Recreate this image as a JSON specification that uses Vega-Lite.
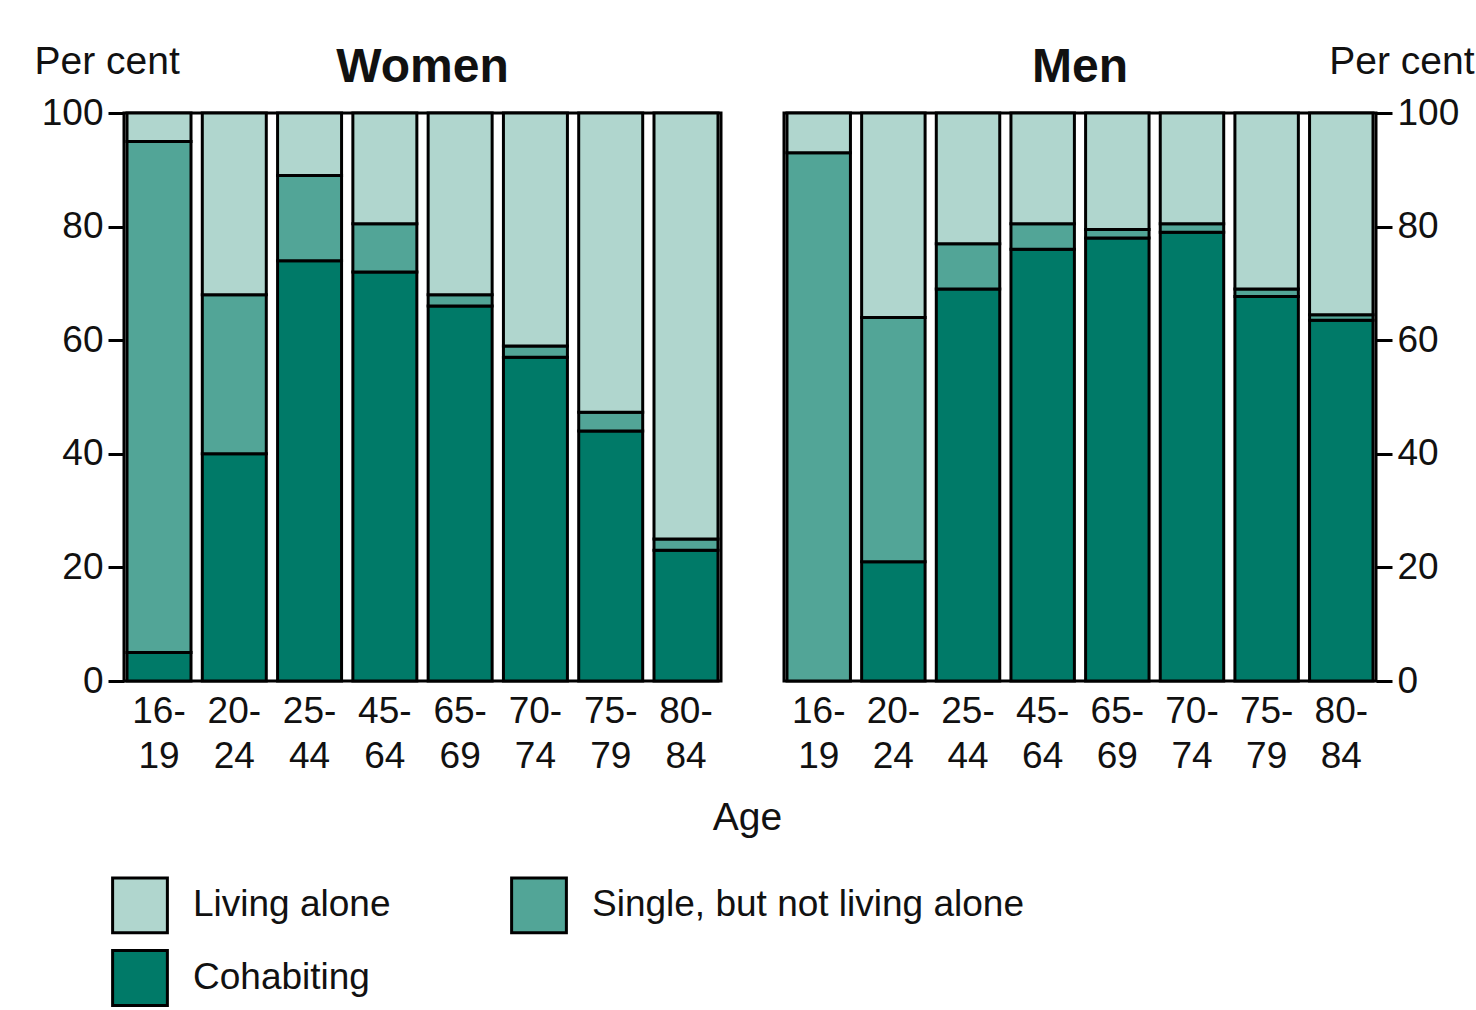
{
  "$schema": "https://vega.github.io/schema/vega-lite/v6.json",
  "background": "white",
  "padding": {"left": 32, "top": 40, "right": 5, "bottom": 5},
  "config": {
    "font": "Liberation Sans",
    "view": {"stroke": "black", "strokeWidth": 3},
    "axis": {"labelFontSize": 37, "labelColor": "#111", "titleFontSize": 39, "titleFontWeight": "normal", "titleColor": "#111", "grid": false, "domain": false, "tickColor": "black", "tickWidth": 3},
    "title": {"fontSize": 48, "fontWeight": "bold", "color": "#111"}
  },
  "data": {"values": [
    {"sex": "Women", "age": "16-19", "category": "Cohabiting", "value": 5},
    {"sex": "Women", "age": "16-19", "category": "Single, but not living alone", "value": 90},
    {"sex": "Women", "age": "16-19", "category": "Living alone", "value": 5},
    {"sex": "Women", "age": "20-24", "category": "Cohabiting", "value": 40},
    {"sex": "Women", "age": "20-24", "category": "Single, but not living alone", "value": 28},
    {"sex": "Women", "age": "20-24", "category": "Living alone", "value": 32},
    {"sex": "Women", "age": "25-44", "category": "Cohabiting", "value": 74},
    {"sex": "Women", "age": "25-44", "category": "Single, but not living alone", "value": 15},
    {"sex": "Women", "age": "25-44", "category": "Living alone", "value": 11},
    {"sex": "Women", "age": "45-64", "category": "Cohabiting", "value": 72},
    {"sex": "Women", "age": "45-64", "category": "Single, but not living alone", "value": 8.5},
    {"sex": "Women", "age": "45-64", "category": "Living alone", "value": 19.5},
    {"sex": "Women", "age": "65-69", "category": "Cohabiting", "value": 66},
    {"sex": "Women", "age": "65-69", "category": "Single, but not living alone", "value": 2},
    {"sex": "Women", "age": "65-69", "category": "Living alone", "value": 32},
    {"sex": "Women", "age": "70-74", "category": "Cohabiting", "value": 57},
    {"sex": "Women", "age": "70-74", "category": "Single, but not living alone", "value": 2},
    {"sex": "Women", "age": "70-74", "category": "Living alone", "value": 41},
    {"sex": "Women", "age": "75-79", "category": "Cohabiting", "value": 44},
    {"sex": "Women", "age": "75-79", "category": "Single, but not living alone", "value": 3.3},
    {"sex": "Women", "age": "75-79", "category": "Living alone", "value": 52.7},
    {"sex": "Women", "age": "80-84", "category": "Cohabiting", "value": 23},
    {"sex": "Women", "age": "80-84", "category": "Single, but not living alone", "value": 2},
    {"sex": "Women", "age": "80-84", "category": "Living alone", "value": 75},
    {"sex": "Men", "age": "16-19", "category": "Single, but not living alone", "value": 93},
    {"sex": "Men", "age": "16-19", "category": "Living alone", "value": 7},
    {"sex": "Men", "age": "20-24", "category": "Cohabiting", "value": 21},
    {"sex": "Men", "age": "20-24", "category": "Single, but not living alone", "value": 43},
    {"sex": "Men", "age": "20-24", "category": "Living alone", "value": 36},
    {"sex": "Men", "age": "25-44", "category": "Cohabiting", "value": 69},
    {"sex": "Men", "age": "25-44", "category": "Single, but not living alone", "value": 8},
    {"sex": "Men", "age": "25-44", "category": "Living alone", "value": 23},
    {"sex": "Men", "age": "45-64", "category": "Cohabiting", "value": 76},
    {"sex": "Men", "age": "45-64", "category": "Single, but not living alone", "value": 4.5},
    {"sex": "Men", "age": "45-64", "category": "Living alone", "value": 19.5},
    {"sex": "Men", "age": "65-69", "category": "Cohabiting", "value": 78},
    {"sex": "Men", "age": "65-69", "category": "Single, but not living alone", "value": 1.5},
    {"sex": "Men", "age": "65-69", "category": "Living alone", "value": 20.5},
    {"sex": "Men", "age": "70-74", "category": "Cohabiting", "value": 79},
    {"sex": "Men", "age": "70-74", "category": "Single, but not living alone", "value": 1.5},
    {"sex": "Men", "age": "70-74", "category": "Living alone", "value": 19.5},
    {"sex": "Men", "age": "75-79", "category": "Cohabiting", "value": 67.7},
    {"sex": "Men", "age": "75-79", "category": "Single, but not living alone", "value": 1.3},
    {"sex": "Men", "age": "75-79", "category": "Living alone", "value": 31},
    {"sex": "Men", "age": "80-84", "category": "Cohabiting", "value": 63.5},
    {"sex": "Men", "age": "80-84", "category": "Single, but not living alone", "value": 1},
    {"sex": "Men", "age": "80-84", "category": "Living alone", "value": 35.5}
  ]},
  "spacing": -5,
  "hconcat": [
    {
      "title": {"text": "Women", "offset": -50},
      "width": 597,
      "height": 568,
      "transform": [
        {"filter": "datum.sex === 'Women'"},
        {"calculate": "datum.category === 'Cohabiting' ? 0 : datum.category === 'Living alone' ? 2 : 1", "as": "stackOrder"}
      ],
      "mark": {"type": "bar", "stroke": "black", "strokeWidth": 3},
      "encoding": {
        "x": {"field": "age", "type": "nominal", "sort": null,
          "scale": {"paddingInner": 0.15, "paddingOuter": 0.04},
          "axis": {"title": "Age", "titleX": 623, "titlePadding": 24, "labelAngle": 0, "ticks": false, "labelPadding": 12, "labelLineHeight": 45, "labelExpr": "[slice(datum.label,0,3), slice(datum.label,3)]"}},
        "y": {"field": "value", "type": "quantitative", "stack": "zero",
          "scale": {"domain": [0, 100]},
          "axis": {"values": [0, 20, 40, 60, 80, 100], "title": "Per cent", "titleAngle": 0, "titleAlign": "left", "titleBaseline": "bottom", "titleX": -90, "titleY": -32, "tickSize": 16, "labelPadding": 5}},
        "color": {"field": "category", "type": "nominal",
          "scale": {"domain": ["Living alone", "Single, but not living alone", "Cohabiting"], "range": ["#b0d6ce", "#52a597", "#007a68"]},
          "legend": {"title": null, "orient": "none", "legendX": -13, "legendY": 763, "direction": "horizontal", "columns": 2, "symbolType": "square", "symbolSize": 3000, "symbolStrokeColor": "black", "symbolStrokeWidth": 3, "symbolOpacity": 1, "labelFontSize": 37, "labelColor": "#111", "labelOffset": 24, "columnPadding": 114, "rowPadding": 5, "labelLimit": 600}},
        "order": {"field": "stackOrder", "type": "quantitative"}
      }
    },
    {
      "title": {"text": "Men", "offset": -50},
      "width": 592,
      "height": 568,
      "transform": [
        {"filter": "datum.sex === 'Men'"},
        {"calculate": "datum.category === 'Cohabiting' ? 0 : datum.category === 'Living alone' ? 2 : 1", "as": "stackOrder"}
      ],
      "mark": {"type": "bar", "stroke": "black", "strokeWidth": 3},
      "encoding": {
        "x": {"field": "age", "type": "nominal", "sort": null,
          "scale": {"domain": ["16-19", "20-24", "25-44", "45-64", "65-69", "70-74", "75-79", "80-84"], "paddingInner": 0.15, "paddingOuter": 0.04},
          "axis": {"title": null, "labelAngle": 0, "ticks": false, "labelPadding": 12, "labelLineHeight": 45, "labelExpr": "[slice(datum.label,0,3), slice(datum.label,3)]"}},
        "y": {"field": "value", "type": "quantitative", "stack": "zero",
          "scale": {"domain": [0, 100]},
          "axis": {"orient": "right", "values": [0, 20, 40, 60, 80, 100], "title": "Per cent", "titleAngle": 0, "titleAlign": "right", "titleBaseline": "bottom", "titleX": 98, "titleY": -32, "tickSize": 16, "labelPadding": 5}},
        "color": {"field": "category", "type": "nominal"},
        "order": {"field": "stackOrder", "type": "quantitative"}
      }
    }
  ]
}
